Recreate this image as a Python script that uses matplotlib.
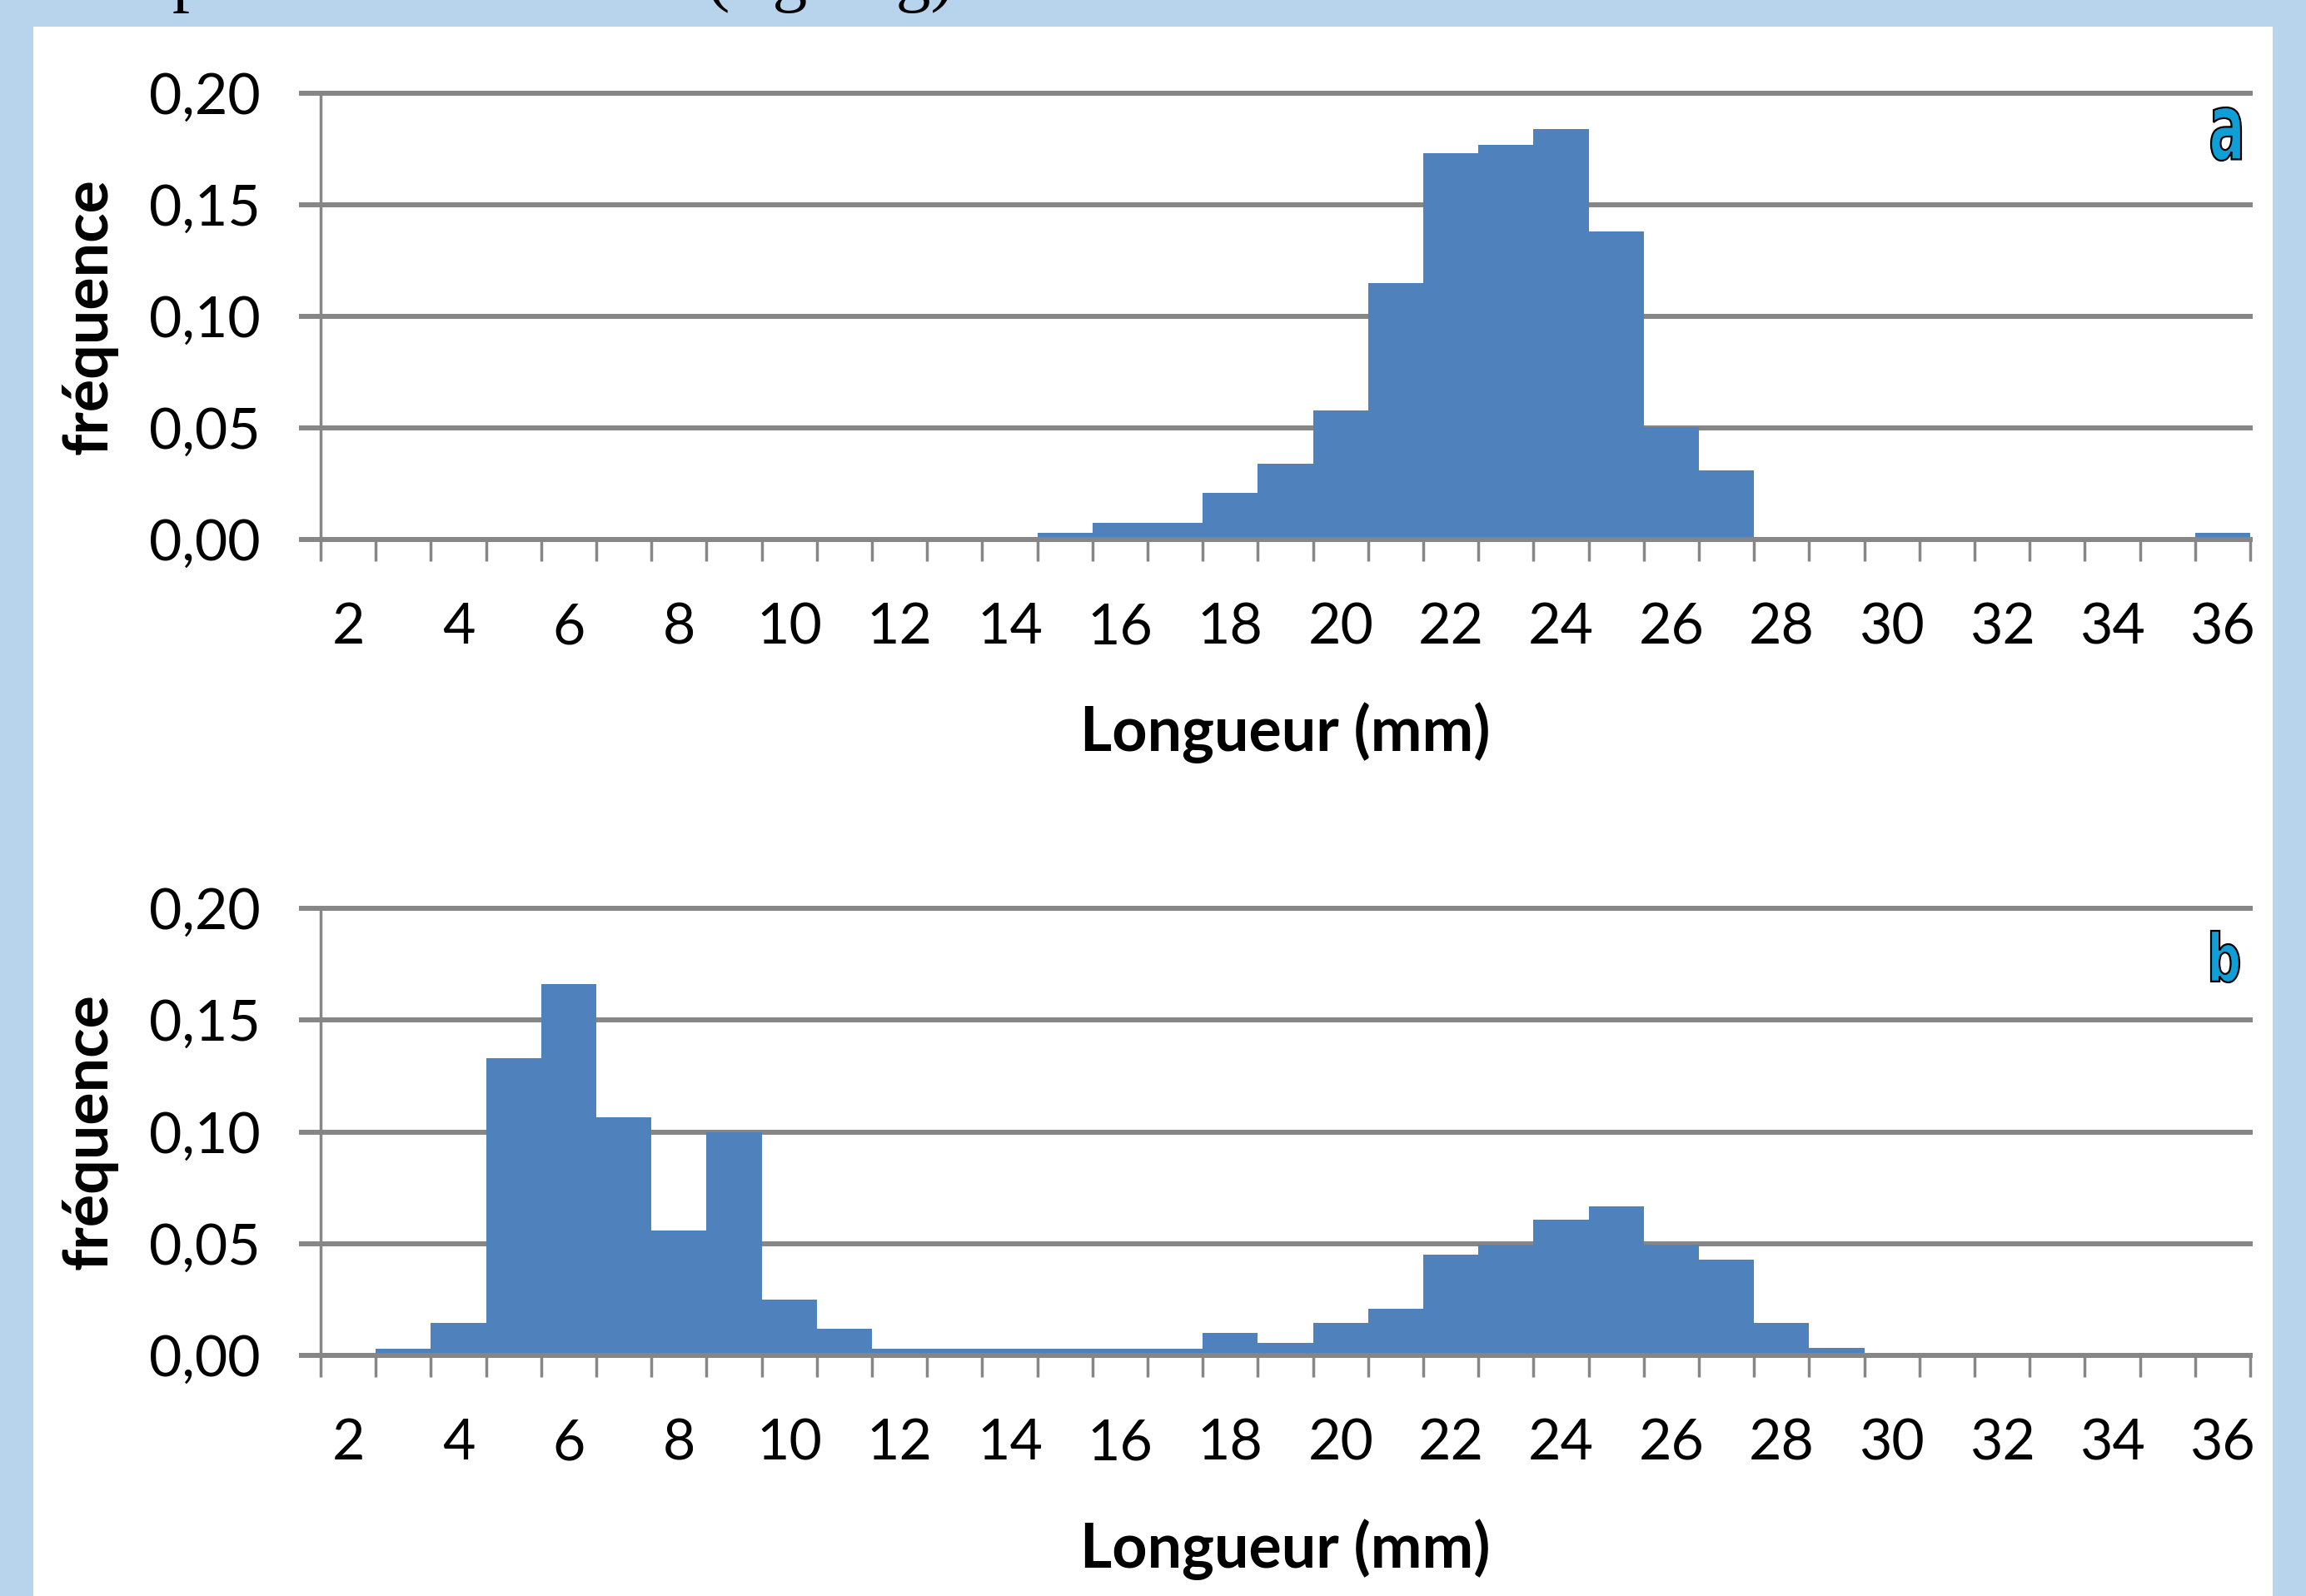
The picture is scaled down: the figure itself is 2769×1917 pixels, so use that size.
import numpy as np
import matplotlib
matplotlib.use("Agg")
import matplotlib.pyplot as plt
from matplotlib.patches import Rectangle, PathPatch
from matplotlib.textpath import TextPath
from matplotlib.font_manager import FontProperties
from matplotlib.transforms import Affine2D

# length classes (mm) and relative frequencies
lengths = list(range(2, 37))
freq_a = [0, 0, 0, 0, 0, 0, 0, 0, 0, 0, 0, 0, 0,
          0.003, 0.0075, 0.0075, 0.021, 0.034, 0.058, 0.115, 0.173, 0.177, 0.184,
          0.138, 0.0505, 0.031,
          0, 0, 0, 0, 0, 0, 0, 0, 0.003]
freq_b = [0, 0.003, 0.0144, 0.133, 0.166, 0.1065, 0.056, 0.100, 0.025, 0.012,
          0.003, 0.003, 0.003, 0.003, 0.003, 0.003,
          0.010, 0.0056, 0.0145, 0.021, 0.045, 0.0495, 0.0607, 0.0667, 0.0495,
          0.0428, 0.0145, 0.0034,
          0, 0, 0, 0, 0, 0, 0]
x_labels = [str(v) for v in range(2, 37, 2)]
y_ticks = [0.0, 0.05, 0.10, 0.15, 0.20]
y_labels = ["0,00", "0,05", "0,10", "0,15", "0,20"]

W, H = 2769, 1917
BAR = "#4F81BD"
GRID = "#868686"
BG = "#B7D4EC"
FS_TICK = 49
FS_LAB = 53

plt.rcParams.update({
    "font.family": ["Lato", "DejaVu Sans"],
    "font.size": FS_TICK,
})

fig = plt.figure(figsize=(W / 100, H / 100), dpi=100)
fig.patch.set_facecolor(BG)
fig.add_artist(Rectangle((40 / W, 0), (2729 - 40) / W, (H - 32) / H,
                         transform=fig.transFigure, facecolor="white",
                         edgecolor="none", zorder=-5))
# caption line of the page, cut off by the crop
fig.text(45 / W, 1 + 2 / H, "Composition des tailles (fig. log)",
         family="Liberation Serif", fontsize=60, va="baseline", color="black")


def panel_letter(ch, cx, cy, w, h):
    tp = TextPath((0, 0), ch, size=100,
                  prop=FontProperties(family="DejaVu Sans", weight="bold"))
    ext = tp.get_extents()
    tr = (Affine2D()
          .translate(-ext.x0 - ext.width / 2, -ext.y0 - ext.height / 2)
          .scale(w / ext.width, h / ext.height)
          .translate(cx, H - cy))
    fig.add_artist(PathPatch(tp, transform=tr, facecolor="#0F9ED5",
                             edgecolor="black", lw=1.6, zorder=10))


def draw_panel(ax, values):
    ax.bar(lengths, values, width=1.0, color=BAR, linewidth=0, zorder=2)
    ax.set_xlim(1.5, 36.5)
    ax.set_ylim(0, 0.20)
    ax.set_yticks(y_ticks)
    ax.set_yticklabels(y_labels)
    ax.set_xticks(np.arange(1.5, 37, 1))
    ax.set_xticks(range(2, 37, 2), minor=True)
    ax.set_xticklabels(x_labels, minor=True)
    ax.tick_params(axis="x", which="major", length=19, width=2.5, color=GRID,
                   labelbottom=False)
    ax.tick_params(axis="x", which="minor", length=0, pad=54, labelsize=FS_TICK)
    ax.tick_params(axis="y", length=19, width=4.3, color=GRID, pad=33,
                   labelsize=FS_TICK)
    ax.yaxis.grid(True, color=GRID, lw=4.3)
    for gl in ax.get_ygridlines():
        gl.set_clip_on(False)
    ax.set_axisbelow(True)
    for s in ("top", "right"):
        ax.spines[s].set_visible(False)
    ax.spines["left"].set_color(GRID)
    ax.spines["left"].set_linewidth(2.5)
    ax.spines["bottom"].set_color(GRID)
    ax.spines["bottom"].set_linewidth(4.3)
    ax.set_xlabel("Longueur (mm)", fontweight="bold", fontsize=FS_LAB)
    ax.xaxis.set_label_coords(0.5, -0.365)
    ax.set_ylabel("fréquence", fontweight="bold", fontsize=FS_LAB)
    ax.yaxis.set_label_coords(-0.105, 0.5)


left = 385 / W
width = (2702 - 385) / W
ax_a = fig.add_axes([left, 1 - 648 / H, width, 536 / H])
ax_b = fig.add_axes([left, 1 - 1628 / H, width, 537 / H])
draw_panel(ax_a, freq_a)
draw_panel(ax_b, freq_b)

panel_letter("a", 2673, 161, 36, 64)
panel_letter("b", 2672, 1149, 34, 62)

fig.savefig("out.png", dpi=100, facecolor=fig.get_facecolor())
